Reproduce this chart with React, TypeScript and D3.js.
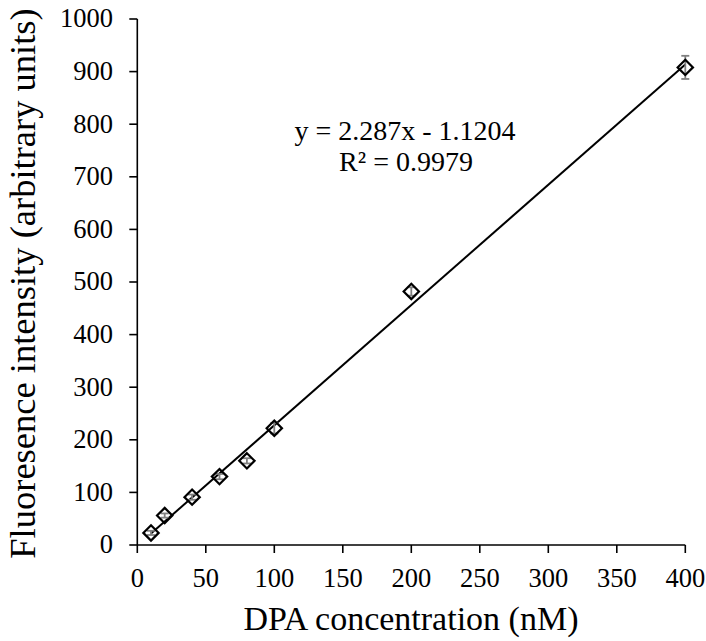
import React from "react";
import * as d3 from "d3";

const concentrations = [10, 20, 40, 60, 80, 100, 200, 400];
const intensities = [23, 56, 91, 130, 160, 222, 482, 908];
const errors = [4, 4, 5, 5, 5, 10, 8, 22];
const xTicks = [0, 50, 100, 150, 200, 250, 300, 350, 400];
const yTicks = [0, 100, 200, 300, 400, 500, 600, 700, 800, 900, 1000];
const slope = 2.287;
const intercept = -1.1204;
const fitRange = [10, 400];
const equationText = "y = 2.287x - 1.1204";
const r2Text = "R² = 0.9979";
const xTitle = "DPA concentration (nM)";
const yTitle = "Fluoresence intensity (arbitrary units)";

const W = 706;
const H = 641;
const font = "Liberation Serif, Times New Roman, serif";

export default function App() {
  const x = d3.scaleLinear().domain([0, 400]).range([137.3, 685.3]);
  const y = d3.scaleLinear().domain([0, 1000]).range([545, 19]);
  const diamond = d3.symbol().type(d3.symbolDiamond2).size(150)();
  const fitLine = d3
    .line<number>()
    .x((d) => x(d))
    .y((d) => y(slope * d + intercept))(fitRange);
  const ts = { fontFamily: font };

  return (
    <svg
      width={W}
      height={H}
      style={{ position: "absolute", left: 0, top: 0, background: "#fff", fontFamily: font }}
    >
      <rect width={W} height={H} fill="#fff" />
      <line x1={x(0)} x2={x(0)} y1={y(1000)} y2={y(0)} stroke="#000" strokeWidth={1.6} />
      <line x1={x(0)} x2={x(400)} y1={y(0)} y2={y(0)} stroke="#000" strokeWidth={1.6} />
      {yTicks.map((t) => (
        <g key={"y" + t}>
          <line x1={x(0) - 8} x2={x(0)} y1={y(t)} y2={y(t)} stroke="#000" strokeWidth={1.6} />
          <text x={113} y={y(t)} dy="0.32em" textAnchor="end" fontSize={26.5} style={ts}>
            {String(t)}
          </text>
        </g>
      ))}
      {xTicks.map((t) => (
        <g key={"x" + t}>
          <line x1={x(t)} x2={x(t)} y1={y(0)} y2={y(0) + 8} stroke="#000" strokeWidth={1.6} />
          <text x={x(t)} y={587} textAnchor="middle" fontSize={26.5} style={ts}>
            {String(t)}
          </text>
        </g>
      ))}
      <path d={fitLine ?? ""} fill="none" stroke="#000" strokeWidth={2} />
      {concentrations.map((c, i) => (
        <g key={"e" + c} stroke="#808080" strokeWidth={1.8}>
          <line x1={x(c)} x2={x(c)} y1={y(intensities[i] + errors[i])} y2={y(intensities[i] - errors[i])} />
          <line x1={x(c) - 4} x2={x(c) + 4} y1={y(intensities[i] + errors[i])} y2={y(intensities[i] + errors[i])} />
          <line x1={x(c) - 4} x2={x(c) + 4} y1={y(intensities[i] - errors[i])} y2={y(intensities[i] - errors[i])} />
        </g>
      ))}
      {concentrations.map((c, i) => (
        <path
          key={"m" + c}
          d={diamond ?? ""}
          transform={`translate(${x(c)},${y(intensities[i])})`}
          fill="none"
          stroke="#000"
          strokeWidth={2.2}
        />
      ))}
      <text x={405} y={140} textAnchor="middle" fontSize={28} style={ts}>
        {equationText}
      </text>
      <text x={406} y={171} textAnchor="middle" fontSize={28} style={ts}>
        {r2Text}
      </text>
      <text x={411} y={630} textAnchor="middle" fontSize={34} style={ts}>
        {xTitle}
      </text>
      <text
        transform={`translate(35,${(12 + 555) / 2}) rotate(-90)`}
        textAnchor="middle"
        fontSize={36.5}
        style={ts}
      >
        {yTitle}
      </text>
    </svg>
  );
}
